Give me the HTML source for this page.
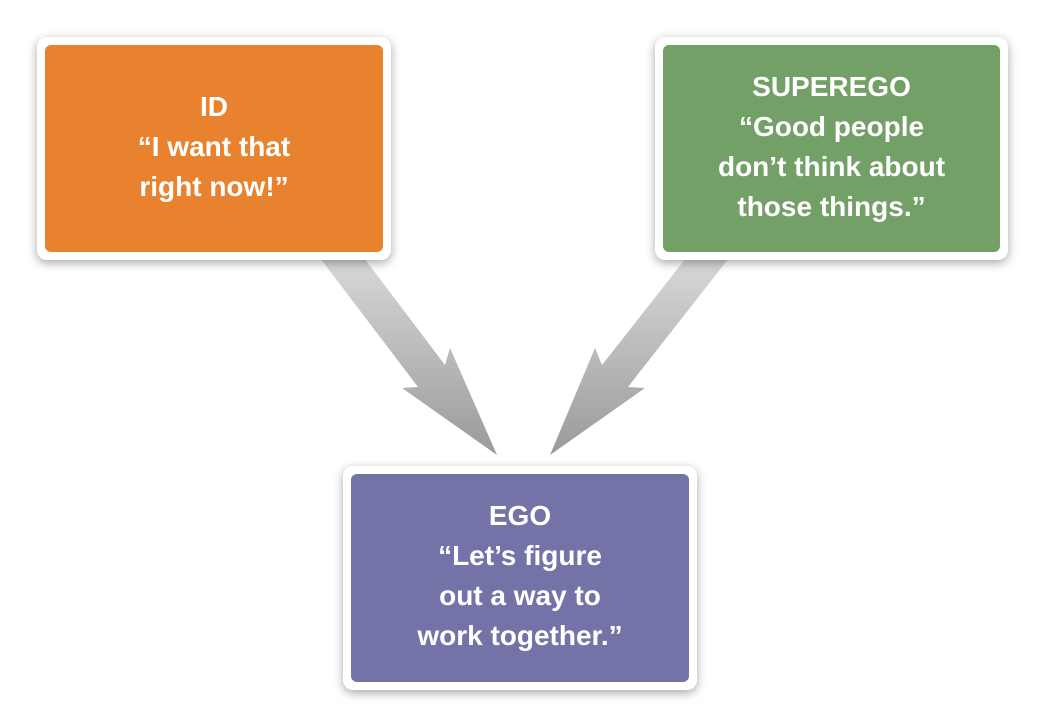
<!DOCTYPE html>
<html><head><meta charset="utf-8"><style>
body{margin:0;width:1047px;height:726px;background:#fff;position:relative;overflow:hidden;font-family:"Liberation Sans",sans-serif}
.b{position:absolute;background:#fff;border-radius:10px;box-shadow:0 3px 10px rgba(0,0,0,.35)}
.i{position:absolute;left:8px;top:8px;right:8px;bottom:8px;border-radius:6px;color:#fff;font-weight:bold;font-size:28px;line-height:40px;text-align:center;display:flex;flex-direction:column;justify-content:center}
svg{position:absolute;left:0;top:0}
</style></head><body>
<svg width="1047" height="726">
<defs>
<linearGradient id="g1" x1="0" y1="0" x2="0" y2="1"><stop offset="0" stop-color="#d8d8d8"/><stop offset="1" stop-color="#9a9a9a"/></linearGradient>
</defs>
<polygon points="320,258 364,258 445,365 450,348 497,455 402,388 418,387" fill="url(#g1)"/>
<polygon points="686,258 729,258 628,387 645,388 550,455 595,348 602,365" fill="url(#g1)"/>
</svg>
<div class="b" style="left:37px;top:37px;width:354px;height:223px"><div class="i" style="background:#e8822e;padding-bottom:4px">ID<br>“I want that<br>right now!”</div></div>
<div class="b" style="left:655px;top:37px;width:353px;height:223px"><div class="i" style="background:#72a066;padding-bottom:4px">SUPEREGO<br>“Good people<br>don’t think about<br>those things.”</div></div>
<div class="b" style="left:343px;top:466px;width:354px;height:224px"><div class="i" style="background:#7373a8;padding-bottom:4px">EGO<br>“Let’s figure<br>out a way to<br>work together.”</div></div>
</body></html>
